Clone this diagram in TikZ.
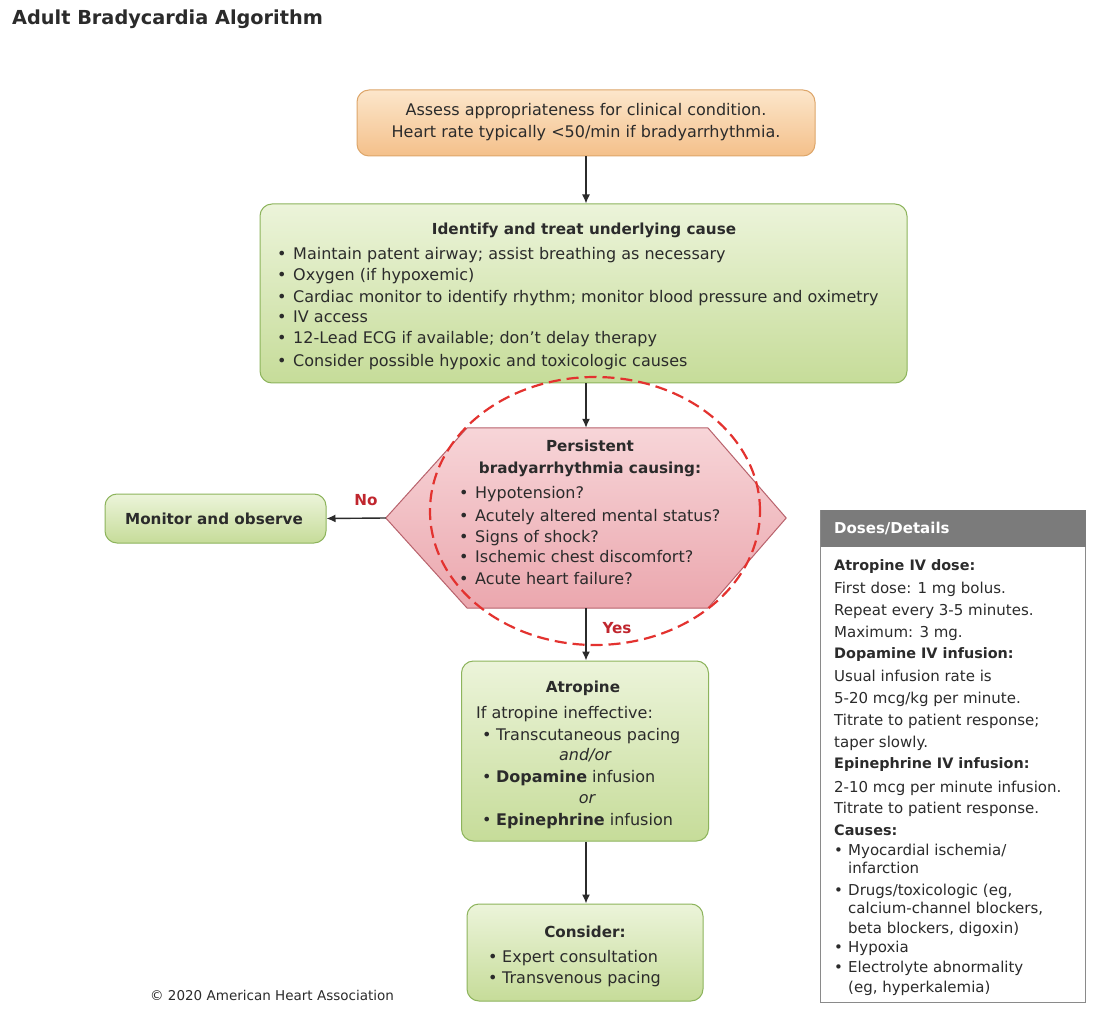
\documentclass[tikz,border=0pt]{standalone}
\usepackage{fontspec}
\setmainfont{DejaVu Sans}
\usetikzlibrary{arrows.meta}
\definecolor{txtc}{HTML}{2B2B2B}
\definecolor{orTop}{HTML}{FCE6CB}
\definecolor{orBot}{HTML}{F4C08A}
\definecolor{orLine}{HTML}{DDA66A}
\definecolor{grTop}{HTML}{ECF4DA}
\definecolor{grBot}{HTML}{C6DC99}
\definecolor{grLine}{HTML}{8DB45C}
\definecolor{pkTop}{HTML}{F7D5D8}
\definecolor{pkBot}{HTML}{EBA7AE}
\definecolor{pkLine}{HTML}{B8626C}
\definecolor{redDash}{HTML}{E3322F}
\definecolor{noyes}{HTML}{C0262E}
\definecolor{hdr}{HTML}{7B7B7B}
\definecolor{boxLine}{HTML}{8A8A8A}
\newcommand{\fB}{\fontsize{16pt}{19pt}\selectfont}
\newcommand{\fBb}{\fontsize{15.2pt}{19pt}\selectfont\bfseries}
\newcommand{\fD}{\fontsize{15pt}{18pt}\selectfont}
\newcommand{\fDb}{\fontsize{14.4pt}{18pt}\selectfont\bfseries}
\newcommand{\blt}[1]{\makebox[#1][l]{\textbullet}}
\begin{document}
\begin{tikzpicture}[x=1pt,y=-1pt,
  txt/.style={inner sep=0pt, text=txtc, font=\fB, anchor=base west},
  ctxt/.style={inner sep=0pt, text=txtc, font=\fB, anchor=base},
  dtxt/.style={inner sep=0pt, text=txtc, font=\fD, anchor=base west},
  orangebox/.style={draw=orLine, line width=1pt, rounded corners=12pt, top color=orTop, bottom color=orBot, inner sep=0pt},
  greenbox/.style={draw=grLine, line width=1pt, rounded corners=12pt, top color=grTop, bottom color=grBot, inner sep=0pt},
  arr/.style={draw=txtc, line width=1.4pt, -{Latex[length=9pt,width=8pt]}},
  lbl/.style={inner sep=0pt, text=noyes, font=\fBb, anchor=center}
]
\useasboundingbox (0,0) rectangle (1096,1024);
\fill[white] (0,0) rectangle (1096,1024);

% title
\node[inner sep=0pt, anchor=base west, text=txtc, font=\fontsize{19.3pt}{24pt}\selectfont\bfseries] (title) at (12,25) {Adult Bradycardia Algorithm};

% top orange box
\node[orangebox, minimum width=458pt, minimum height=66pt] (assess) at (586,123) {};
\node[ctxt] (a1) at (586,116) {Assess appropriateness for clinical condition.};
\node[ctxt] (a2) at (586,138) {Heart rate typically <50/min if bradyarrhythmia.};

% green cause box
\node[greenbox, minimum width=647pt, minimum height=179pt] (cause) at (583.5,293.5) {};
\node[ctxt, font=\fBb] (ct) at (584,235) {Identify and treat underlying cause};
\node[txt] (c1) at (277,260) {\blt{16pt}Maintain patent airway; assist breathing as necessary};
\node[txt] (c2) at (277,281) {\blt{16pt}Oxygen (if hypoxemic)};
\node[txt] (c3) at (277,303) {\blt{16pt}Cardiac monitor to identify rhythm; monitor blood pressure and oximetry};
\node[txt] (c4) at (277,323) {\blt{16pt}IV access};
\node[txt] (c5) at (277,344) {\blt{16pt}12-Lead ECG if available; don't delay therapy};
\node[txt] (c6) at (277,367) {\blt{16pt}Consider possible hypoxic and toxicologic causes};

% hexagon
\node[minimum width=400pt, minimum height=180pt, inner sep=0pt] (hex) at (586,518) {};
\path[draw=pkLine, line width=1pt, top color=pkTop, bottom color=pkBot]
  (hex.west) -- (467,428) -- (708,428) -- (hex.east) -- (708,608) -- (467,608) -- cycle;
\node[ctxt, font=\fBb] (h0) at (590,452) {Persistent};
\node[ctxt, font=\fBb] (h00) at (590,474) {bradyarrhythmia causing:};
\node[txt] (h1) at (459,498) {\blt{16pt}Hypotension?};
\node[txt] (h2) at (459,521) {\blt{16pt}Acutely altered mental status?};
\node[txt] (h3) at (459,542) {\blt{16pt}Signs of shock?};
\node[txt] (h4) at (459,562) {\blt{16pt}Ischemic chest discomfort?};
\node[txt] (h5) at (459,584) {\blt{16pt}Acute heart failure?};

% monitor box
\node[greenbox, minimum width=221pt, minimum height=49pt] (monitor) at (215.5,518.5) {};
\node[ctxt, font=\fBb] (m1) at (214,524) {Monitor and observe};

% atropine box
\node[greenbox, minimum width=247pt, minimum height=180pt] (atro) at (585,751) {};
\node[ctxt, font=\fBb] (t0) at (583,692) {Atropine};
\node[txt] (t1) at (476,718) {If atropine ineffective:};
\node[txt] (t2) at (482,740) {\blt{14pt}Transcutaneous pacing};
\node[ctxt, font=\fB\itshape] (t3) at (585,760) {and/or};
\node[txt] (t4) at (482,782) {\blt{14pt}\textbf{Dopamine} infusion};
\node[ctxt, font=\fB\itshape] (t5) at (587,803) {or};
\node[txt] (t6) at (482,825) {\blt{14pt}\textbf{Epinephrine} infusion};

% consider box
\node[greenbox, minimum width=236pt, minimum height=97pt] (cons) at (585,952.5) {};
\node[ctxt, font=\fBb] (k0) at (585,937) {Consider:};
\node[txt] (k1) at (488,962) {\blt{14pt}Expert consultation};
\node[txt] (k2) at (488,983) {\blt{14pt}Transvenous pacing};

% red dashed ellipse
\draw[redDash, line width=2.2pt, dash pattern=on 12pt off 6pt] (595,511) ellipse [x radius=165pt, y radius=134pt];

% connectors
\draw[arr] (assess.south) -- (assess.south |- cause.north);
\draw[arr] (assess.south |- cause.south) -- (hex.north);
\draw[arr] (hex.west) -- (monitor.east);
\draw[arr] (hex.south) -- (hex.south |- atro.north);
\draw[arr] (hex.south |- atro.south) -- (hex.south |- cons.north);
\node[lbl] (no) at (366,500) {No};
\node[lbl] (yes) at (617,628) {Yes};

% doses box
\node[draw=boxLine, line width=1pt, minimum width=265pt, minimum height=492pt, inner sep=0pt] (doses) at (953,756) {};
\node[fill=hdr, minimum width=265pt, minimum height=37pt, inner sep=0pt, anchor=north] (hdrbox) at (doses.north) {};
\node[inner sep=0pt, anchor=base west, text=white, font=\fD\bfseries] (dh) at (834,533) {Doses/Details};
\node[dtxt, font=\fDb] (d1) at (834,570) {Atropine IV dose:};
\node[dtxt] (d2) at (834,593) {First dose: 1 mg bolus.};
\node[dtxt] (d3) at (834,615) {Repeat every 3-5 minutes.};
\node[dtxt] (d4) at (834,637) {Maximum: 3 mg.};
\node[dtxt, font=\fDb] (d5) at (834,658) {Dopamine IV infusion:};
\node[dtxt] (d6) at (834,681) {Usual infusion rate is};
\node[dtxt] (d7) at (834,703) {5-20 mcg/kg per minute.};
\node[dtxt] (d8) at (834,725) {Titrate to patient response;};
\node[dtxt] (d9) at (834,747) {taper slowly.};
\node[dtxt, font=\fDb] (d10) at (834,768) {Epinephrine IV infusion:};
\node[dtxt] (d11) at (834,792) {2-10 mcg per minute infusion.};
\node[dtxt] (d12) at (834,813) {Titrate to patient response.};
\node[dtxt, font=\fDb] (d13) at (834,835) {Causes:};
\node[dtxt] (d14) at (834,855) {\blt{14pt}Myocardial ischemia/};
\node[dtxt] (d15) at (848,873) {infarction};
\node[dtxt] (d16) at (834,895) {\blt{14pt}Drugs/toxicologic (eg,};
\node[dtxt] (d17) at (848,913) {calcium-channel blockers,};
\node[dtxt] (d18) at (848,933) {beta blockers, digoxin)};
\node[dtxt] (d19) at (834,952) {\blt{14pt}Hypoxia};
\node[dtxt] (d20) at (834,972) {\blt{14pt}Electrolyte abnormality};
\node[dtxt] (d21) at (848,992) {(eg, hyperkalemia)};

% copyright
\node[inner sep=0pt, anchor=base west, text=txtc, font=\fontsize{13.5pt}{16pt}\selectfont] (copy) at (150,1000) {© 2020 American Heart Association};
\end{tikzpicture}
\end{document}
